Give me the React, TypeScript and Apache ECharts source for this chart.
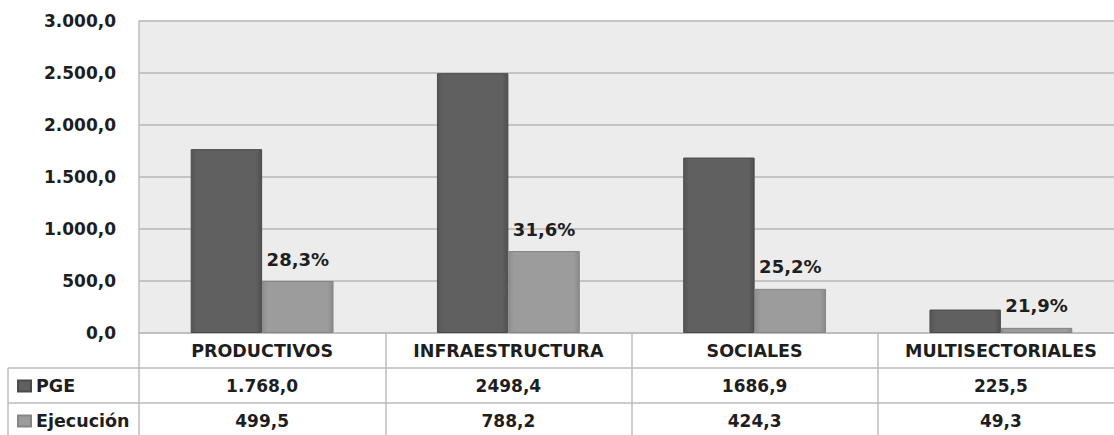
import React, { useEffect, useRef } from "react";
import * as echarts from "echarts";

const categories = ["PRODUCTIVOS", "INFRAESTRUCTURA", "SOCIALES", "MULTISECTORIALES"];
const pgeValues = [1768.0, 2498.4, 1686.9, 225.5];
const ejecucionValues = [499.5, 788.2, 424.3, 49.3];
const pgeTableLabels = ["1.768,0", "2498,4", "1686,9", "225,5"];
const ejecucionTableLabels = ["499,5", "788,2", "424,3", "49,3"];
const percentLabels = ["28,3%", "31,6%", "25,2%", "21,9%"];
const yTicks = { min: 0, max: 3000, interval: 500 };

const FONT = "DejaVu Sans";
const TXT = "#1e1e1e";
const LINE = "#bdbdbd";

function fmt(v: number): string {
  const fixed = v.toFixed(1);
  const [intPart, dec] = fixed.split(".");
  const withSep = intPart.replace(/\B(?=(\d{3})+(?!\d))/g, ".");
  return withSep + "," + dec;
}

export default function App() {
  const ref = useRef<HTMLDivElement>(null);
  useEffect(() => {
    if (!ref.current) return;
    const chart = echarts.init(ref.current, undefined, { renderer: "svg" });
    const tableAxis = (data: string[], offset: number, fontSize: number) => ({
      type: "category",
      data,
      position: "bottom",
      offset,
      gridIndex: 0,
      axisLine: { show: true, lineStyle: { color: LINE, width: 1.5 } },
      axisTick: { show: true, length: 35, interval: 0, lineStyle: { color: LINE, width: 1.5 } },
      axisLabel: {
        show: true,
        interval: 0,
        margin: 18,
        verticalAlign: "middle",
        fontFamily: FONT,
        fontWeight: "bold",
        fontSize,
        color: TXT,
      },
      splitLine: { show: false },
    });
    chart.setOption({
      animation: false,
      backgroundColor: "#ffffff",
      grid: {
        left: 139,
        right: 0,
        top: 21,
        bottom: 102,
        show: true,
        backgroundColor: "#ececec",
        borderWidth: 0,
      },
      legend: {
        data: ["PGE", "Ejecución"],
        orient: "vertical",
        left: 17,
        top: 376,
        padding: 0,
        icon: "rect",
        itemWidth: 13,
        itemHeight: 11,
        itemGap: 15,
        textStyle: {
          fontFamily: FONT,
          fontWeight: "bold",
          fontSize: 17.5,
          color: TXT,
          lineHeight: 20,
        },
      },
      xAxis: [
        tableAxis(categories, 0, 17.5),
        tableAxis(pgeTableLabels, 35, 17),
        tableAxis(ejecucionTableLabels, 70, 17),
      ],
      yAxis: {
        type: "value",
        min: yTicks.min,
        max: yTicks.max,
        interval: yTicks.interval,
        axisLine: { show: true, lineStyle: { color: LINE, width: 1.5 } },
        axisTick: { show: false },
        splitLine: { show: true, lineStyle: { color: "#c4c4c4", width: 2 } },
        axisLabel: {
          margin: 23,
          fontFamily: FONT,
          fontWeight: "bold",
          fontSize: 17,
          color: TXT,
          formatter: (v: number) => fmt(v),
        },
      },
      series: [
        {
          name: "PGE",
          type: "bar",
          xAxisIndex: 0,
          data: pgeValues,
          barGap: "0%",
          barCategoryGap: "42%",
          itemStyle: {
            color: new echarts.graphic.LinearGradient(0, 0, 1, 0, [
              { offset: 0, color: "#555555" },
              { offset: 0.08, color: "#606060" },
              { offset: 0.92, color: "#606060" },
              { offset: 1, color: "#4f4f4f" },
            ]),
            borderColor: "#4a4a4a",
            borderWidth: 1,
          },
        },
        {
          name: "Ejecución",
          type: "bar",
          xAxisIndex: 0,
          data: ejecucionValues,
          itemStyle: {
            color: new echarts.graphic.LinearGradient(0, 0, 1, 0, [
              { offset: 0, color: "#909090" },
              { offset: 0.08, color: "#9c9c9c" },
              { offset: 0.92, color: "#9c9c9c" },
              { offset: 1, color: "#8a8a8a" },
            ]),
            borderColor: "#858585",
            borderWidth: 1,
          },
          label: {
            show: true,
            position: "top",
            distance: 13,
            fontFamily: FONT,
            fontWeight: "bold",
            fontSize: 18,
            color: TXT,
            formatter: (p: any) => percentLabels[p.dataIndex],
          },
        },
      ],
      graphic: [
        {
          type: "line",
          shape: { x1: 8, y1: 368, x2: 8, y2: 440 },
          style: { stroke: LINE, lineWidth: 1.5 },
        },
        {
          type: "line",
          shape: { x1: 8, y1: 368, x2: 139, y2: 368 },
          style: { stroke: LINE, lineWidth: 1.5 },
        },
        {
          type: "line",
          shape: { x1: 8, y1: 403, x2: 139, y2: 403 },
          style: { stroke: LINE, lineWidth: 1.5 },
        },
      ],
    });
    return () => chart.dispose();
  }, []);
  return (
    <div
      ref={ref}
      style={{ position: "fixed", left: 0, top: 0, width: 1124, height: 435 }}
    />
  );
}
